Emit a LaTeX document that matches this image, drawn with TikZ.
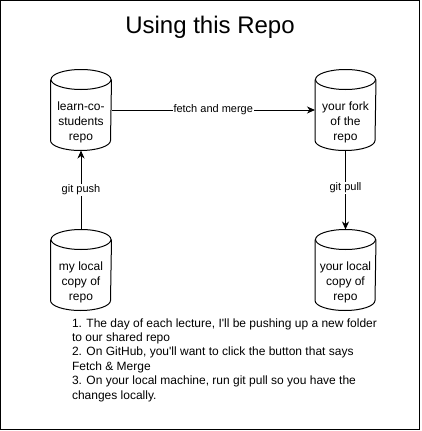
\documentclass[tikz,border=0pt]{standalone}
\usepackage{fontspec}
\setmainfont{Liberation Sans}
\usetikzlibrary{arrows.meta}

\begin{document}
\begin{tikzpicture}[
    x = 1pt,
    y = -1pt,
    line width = 1pt,
    >={Stealth[length=8pt,width=7pt,inset=2.5pt]},
    repo/.style = {
      rectangle,
      inner sep = 0pt,
      minimum width = 60pt,
      minimum height = 80pt
    },
    repotext/.style = {
      align = center,
      inner sep = 0pt,
      font = \fontsize{12}{15}\selectfont
    },
    edgelabel/.style = {
      fill = white,
      inner sep = 1pt,
      font = \fontsize{11}{13}\selectfont
    }
  ]
  \useasboundingbox (0,0) rectangle (421,431);
  \draw (0.5,0.5) rectangle (419.5,429.8);

  \node[font=\fontsize{24}{29}\selectfont] (title) at (210,27) {Using this Repo};

  \node[repo] (upstream) at (81,110)    {};
  \node[repo] (fork)     at (345.5,110) {};
  \node[repo] (mine)     at (81,270)    {};
  \node[repo] (yours)    at (345.5,270) {};

  % cylinder outlines
  \foreach \n in {upstream,fork,mine,yours} {
    \draw ([yshift=-10pt]\n.north) ellipse [x radius=30pt, y radius=10pt];
    \draw ([yshift=-10pt]\n.north west) -- ([yshift=10pt]\n.south west)
      arc [start angle=180, end angle=360, x radius=30pt, y radius=10pt]
      -- ([yshift=-10pt]\n.north east);
  }

  \node[repotext] (upstream text) at ([yshift=-12pt]upstream.center) {learn-co-\\students\\repo};
  \node[repotext] (fork text)     at ([yshift=-12pt]fork.center)     {your fork\\of the\\repo};
  \node[repotext] (mine text)     at ([yshift=-12pt]mine.center)     {my local\\copy of\\repo};
  \node[repotext] (yours text)    at ([yshift=-12pt]yours.center)    {your local\\copy of\\repo};

  \draw[->] (upstream.east) -- node[edgelabel] (fetch) {fetch and merge} (fork.west);
  \draw[->] (mine.north) -- node[edgelabel] (push) {git push} (upstream.south);
  \draw[->] (fork.south) -- node[edgelabel, yshift=2pt] (pull) {git pull} (yours.north);

  \node[anchor=north west, align=left, inner sep=0pt,
        font=\fontsize{12}{14.4}\selectfont] (steps) at (71.5,318)
    {1. The day of each lecture, I\textquotesingle ll be pushing up a new folder\\
     to our shared repo\\
     2. On GitHub, you\textquotesingle ll want to click the button that says\\
     Fetch \& Merge\\
     3. On your local machine, run git pull so you have the\\
     changes locally.};
\end{tikzpicture}
\end{document}
